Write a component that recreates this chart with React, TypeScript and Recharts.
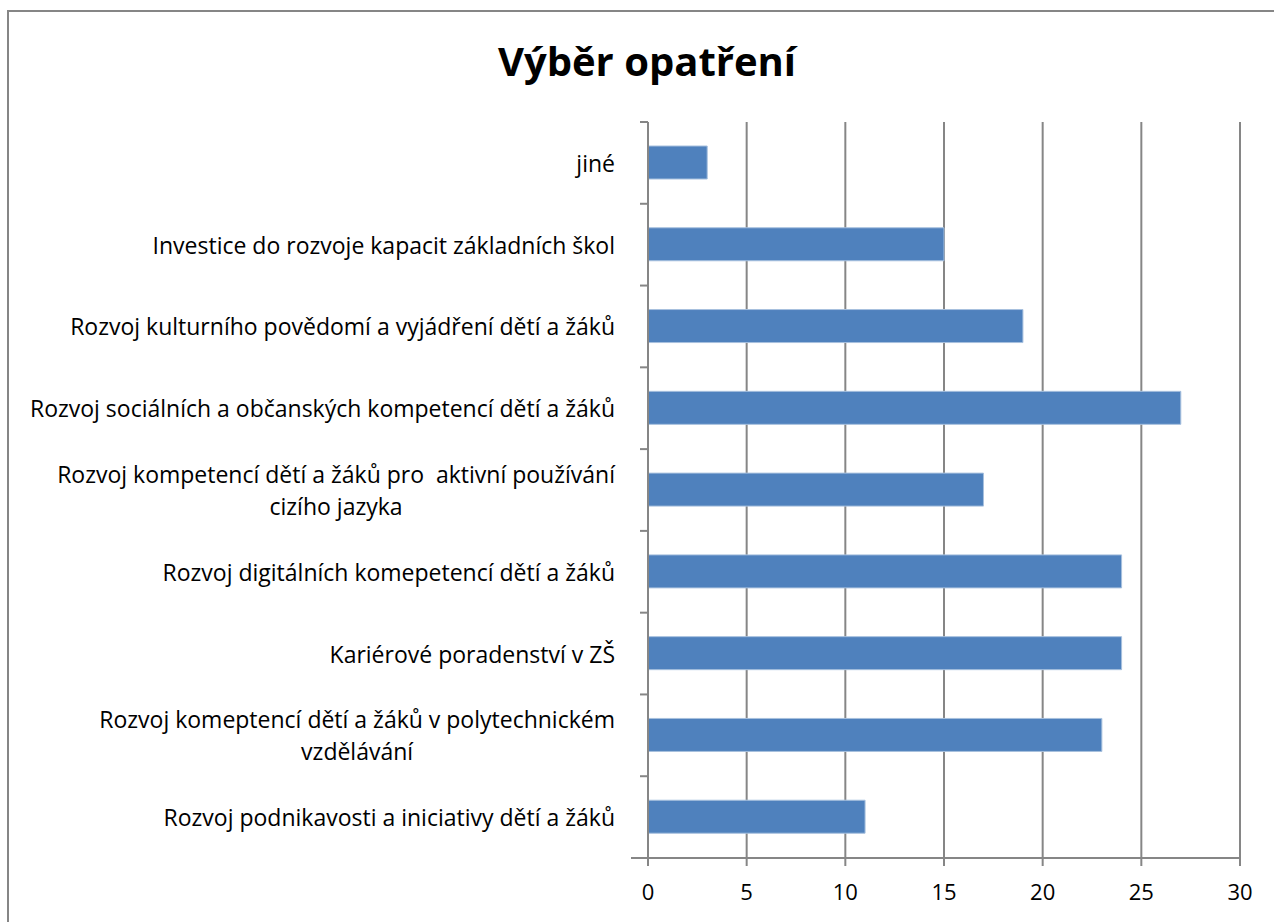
import React from "react";
import { Bar, BarChart, CartesianGrid, XAxis, YAxis } from "recharts";

document.body.style.margin = "0";

const categories = [
  "jiné",
  "Investice do rozvoje kapacit základních škol",
  "Rozvoj kulturního povědomí a vyjádření dětí a žáků",
  "Rozvoj sociálních a občanských kompetencí dětí a žáků",
  "Rozvoj kompetencí dětí a žáků pro  aktivní používání\ncizího jazyka",
  "Rozvoj digitálních komepetencí dětí a žáků",
  "Kariérové poradenství v ZŠ",
  "Rozvoj komeptencí dětí a žáků v polytechnickém\nvzdělávání",
  "Rozvoj podnikavosti a iniciativy dětí a žáků",
];
const values = [3, 15, 19, 27, 17, 24, 24, 23, 11];
const xTicks = [0, 5, 10, 15, 20, 25, 30];

const data = categories.map((name, i) => ({ name, value: values[i] }));

const FONT = "'Open Sans', Lato, sans-serif";
const LABEL_SIZE = 23;
const GRAY = "#868686";

const WIDTH = 1274;
const HEIGHT = 922;
const PLOT_TOP = 122;
const PLOT_BOTTOM = 858;
const PLOT_LEFT = 648;
const PLOT_RIGHT = 1240;
const band = (PLOT_BOTTOM - PLOT_TOP) / categories.length;

let ctx: CanvasRenderingContext2D | null = null;
function textWidth(s: string) {
  if (!ctx) ctx = document.createElement("canvas").getContext("2d");
  if (!ctx) return s.length * 10;
  ctx.font = `${LABEL_SIZE}px ${FONT}`;
  return ctx.measureText(s).width;
}

function CategoryTick(props: any) {
  const { y, payload, index } = props;
  const lines: string[] = String(payload.value).split("\n");
  const right = 615;
  const widest = Math.max(...lines.map(textWidth));
  const lineH = 32;
  const first = y - ((lines.length - 1) * lineH) / 2;
  const last = index === categories.length - 1;
  return (
    <g>
      <line x1={PLOT_LEFT - 8} x2={PLOT_LEFT} y1={y - band / 2} y2={y - band / 2} stroke={GRAY} strokeWidth={2} />
      {last && (
        <line x1={PLOT_LEFT - 17} x2={PLOT_LEFT} y1={y + band / 2} y2={y + band / 2} stroke={GRAY} strokeWidth={2} />
      )}
      {lines.map((ln, i) => (
        <text
          key={i}
          x={lines.length > 1 ? right - widest / 2 : right}
          y={first + i * lineH}
          textAnchor={lines.length > 1 ? "middle" : "end"}
          dominantBaseline="central"
          fontFamily={FONT}
          fontSize={LABEL_SIZE}
          fill="#000"
          style={{ whiteSpace: "pre" }}
        >
          {ln}
        </text>
      ))}
    </g>
  );
}

export default function App() {
  return (
    <div style={{ position: "relative", width: WIDTH, height: HEIGHT, overflow: "hidden", background: "#fff" }}>
      <div
        style={{
          position: "absolute",
          left: 7,
          top: 10,
          width: 1400,
          height: 1000,
          borderLeft: `2px solid ${GRAY}`,
          borderTop: `2px solid ${GRAY}`,
        }}
      />
      <div
        style={{
          position: "absolute",
          left: 0,
          width: WIDTH,
          top: 34,
          textAlign: "center",
          fontFamily: FONT,
          fontWeight: 700,
          fontSize: 40,
          lineHeight: "54px",
          paddingLeft: 20,
          boxSizing: "border-box",
        }}
      >
        Výběr opatření
      </div>
      <div style={{ position: "absolute", left: 0, top: 0 }}>
        <BarChart
          width={WIDTH}
          height={HEIGHT}
          data={data}
          layout="vertical"
          barSize={33}
          margin={{ top: PLOT_TOP, bottom: HEIGHT - PLOT_BOTTOM - 30, left: 0, right: WIDTH - PLOT_RIGHT }}
        >
          <CartesianGrid horizontal={false} stroke={GRAY} strokeWidth={2} />
          <XAxis
            type="number"
            domain={[0, 30]}
            ticks={xTicks}
            interval={0}
            axisLine={{ stroke: GRAY, strokeWidth: 2 }}
            tickLine={{ stroke: GRAY, strokeWidth: 2 }}
            tickSize={8}
            height={30}
            tick={{ fontFamily: FONT, fontSize: 22, fill: "#000", dy: 16 }}
          />
          <YAxis
            type="category"
            dataKey="name"
            width={PLOT_LEFT}
            interval={0}
            axisLine={{ stroke: GRAY, strokeWidth: 2 }}
            tickLine={false}
            tick={<CategoryTick />}
          />
          <Bar dataKey="value" fill="#4F81BD" stroke="#A7C0DE" strokeWidth={1} isAnimationActive={false} />
        </BarChart>
      </div>
    </div>
  );
}
